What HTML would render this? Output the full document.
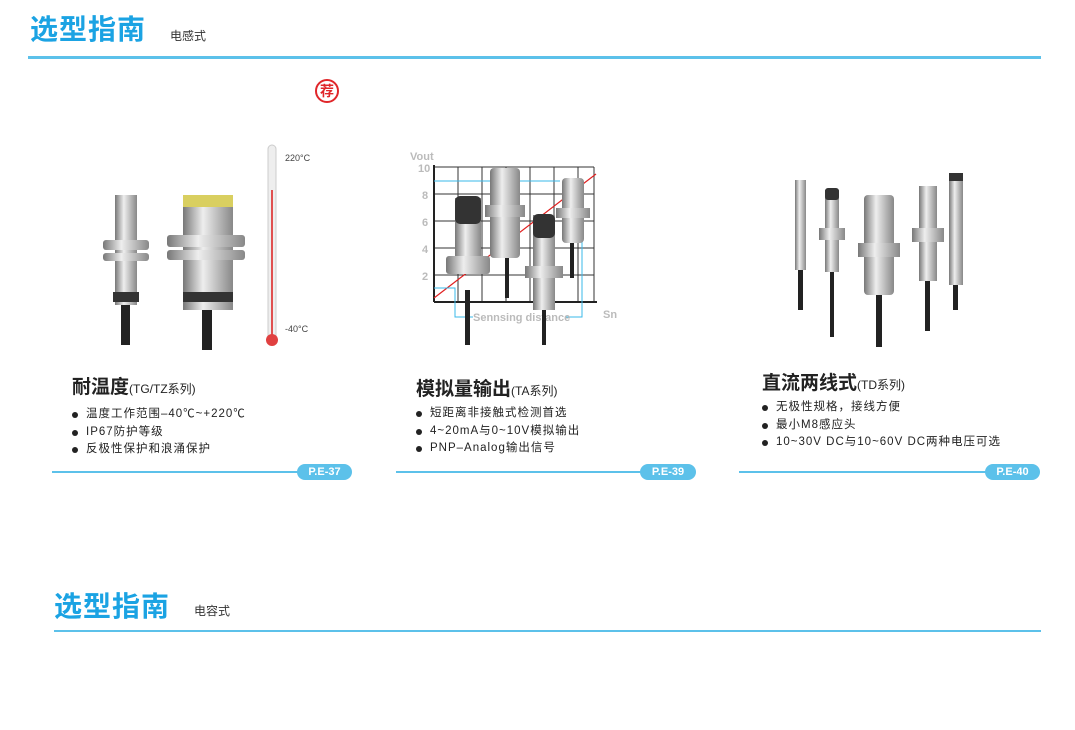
<!DOCTYPE html>
<html><head><meta charset="utf-8"><style>
body{margin:0;width:1075px;height:730px;background:#fff;position:relative;overflow:hidden;font-family:"Liberation Sans","Noto Sans CJK SC",sans-serif;color:#222}
.a{position:absolute;white-space:nowrap}
.h{color:#1ba3e3;font-weight:bold;font-size:28px;letter-spacing:1px}
.s{font-size:12px;color:#333}
.ln{position:absolute;height:2px;background:#5cc1ea}
.t{font-size:19px;font-weight:bold;color:#222}
.t span{font-size:12px;font-weight:normal}
.b{font-size:11.5px;line-height:17.5px;letter-spacing:1px}
.b div{position:relative;padding-left:14px}
.b div:before{content:"";position:absolute;left:0;top:6px;width:6px;height:6px;border-radius:50%;background:#222}
.p{position:absolute;height:16px;border-radius:8px;background:#5cc1ea;color:#fff;font-weight:bold;font-size:11px;text-align:center;line-height:16px}
</style></head><body>
<div class="a h" style="left:30px;top:8px">选型指南</div>
<div class="a s" style="left:170px;top:27px">电感式</div>
<div class="ln" style="left:28px;top:56px;width:1013px;height:3px"></div>
<div class="a" style="left:315px;top:79px;width:20px;height:20px;border:2px solid #e0262a;border-radius:50%;color:#e0262a;font-weight:bold;font-size:14px;text-align:center;line-height:20px">荐</div>

<svg class="a" style="left:0;top:0" width="1075" height="730">
<defs>
<linearGradient id="m" x1="0" x2="1"><stop offset="0" stop-color="#777"/><stop offset=".4" stop-color="#eee"/><stop offset="1" stop-color="#888"/></linearGradient>
</defs>
<rect x="115" y="195" width="22" height="110" fill="url(#m)"/>
<rect x="103" y="240" width="46" height="10" rx="3" fill="url(#m)"/>
<rect x="103" y="253" width="46" height="8" rx="3" fill="url(#m)"/>
<rect x="113" y="292" width="26" height="10" fill="#333"/>
<rect x="121" y="305" width="9" height="40" fill="#222"/>
<rect x="183" y="195" width="50" height="115" fill="url(#m)"/>
<rect x="183" y="195" width="50" height="12" fill="#d9cf60"/>
<rect x="167" y="235" width="78" height="12" rx="3" fill="url(#m)"/>
<rect x="167" y="250" width="78" height="10" rx="3" fill="url(#m)"/>
<rect x="183" y="292" width="50" height="10" fill="#333"/>
<rect x="202" y="310" width="10" height="40" fill="#222"/>
<rect x="268" y="145" width="8" height="195" rx="4" fill="#eee" stroke="#ccc"/>
<rect x="271" y="190" width="2" height="145" fill="#e05050"/>
<circle cx="272" cy="340" r="6" fill="#e04040"/>
<text x="285" y="161" font-size="9" fill="#444">220°C</text>
<text x="285" y="332" font-size="9" fill="#444">-40°C</text>
<g stroke="#333" stroke-width="1">
<line x1="434" y1="167" x2="594" y2="167"/><line x1="434" y1="194" x2="594" y2="194"/><line x1="434" y1="221" x2="594" y2="221"/><line x1="434" y1="248" x2="594" y2="248"/><line x1="434" y1="275" x2="594" y2="275"/>
<line x1="458" y1="167" x2="458" y2="302"/><line x1="482" y1="167" x2="482" y2="302"/><line x1="506" y1="167" x2="506" y2="302"/><line x1="530" y1="167" x2="530" y2="302"/><line x1="554" y1="167" x2="554" y2="302"/><line x1="578" y1="167" x2="578" y2="302"/><line x1="594" y1="167" x2="594" y2="302"/>
</g>
<line x1="434" y1="165" x2="434" y2="302" stroke="#222" stroke-width="2"/>
<line x1="434" y1="302" x2="597" y2="302" stroke="#222" stroke-width="2"/>
<line x1="434" y1="298" x2="596" y2="174" stroke="#e02020" stroke-width="1.2"/>
<polyline points="434,288 455,288 455,317 473,317" fill="none" stroke="#3ab8ea"/>
<polyline points="565,317 582,317 582,221" fill="none" stroke="#3ab8ea"/>
<line x1="434" y1="181" x2="560" y2="181" stroke="#3ab8ea"/>
<g font-size="11" fill="#bbb" font-weight="bold"><text x="410" y="160">Vout</text><text x="418" y="172">10</text><text x="422" y="199">8</text><text x="422" y="226">6</text><text x="422" y="253">4</text><text x="422" y="280">2</text><text x="603" y="318">Sn</text><text x="473" y="321">Sennsing distance</text></g>
<rect x="455" y="198" width="26" height="75" fill="url(#m)"/><rect x="455" y="196" width="26" height="28" rx="5" fill="#333"/>
<rect x="446" y="256" width="44" height="18" rx="3" fill="url(#m)"/><rect x="465" y="290" width="5" height="55" fill="#222"/>
<rect x="490" y="168" width="30" height="90" rx="4" fill="url(#m)"/><rect x="485" y="205" width="40" height="12" fill="url(#m)"/><rect x="505" y="258" width="4" height="40" fill="#222"/>
<rect x="533" y="215" width="22" height="95" fill="url(#m)"/><rect x="533" y="214" width="22" height="24" rx="5" fill="#333"/><rect x="525" y="266" width="38" height="12" fill="url(#m)"/><rect x="542" y="310" width="4" height="35" fill="#222"/>
<rect x="562" y="178" width="22" height="65" rx="4" fill="url(#m)"/><rect x="556" y="208" width="34" height="10" fill="url(#m)"/><rect x="570" y="243" width="4" height="35" fill="#222"/>
<rect x="795" y="180" width="11" height="90" fill="url(#m)"/><rect x="798" y="270" width="5" height="40" fill="#222"/>
<rect x="825" y="190" width="14" height="82" fill="url(#m)"/><rect x="825" y="188" width="14" height="12" rx="3" fill="#333"/><rect x="819" y="228" width="26" height="12" fill="url(#m)"/><rect x="830" y="272" width="4" height="65" fill="#222"/>
<rect x="864" y="195" width="30" height="100" rx="4" fill="url(#m)"/><rect x="858" y="243" width="42" height="14" fill="url(#m)"/><rect x="876" y="295" width="6" height="52" fill="#222"/>
<rect x="919" y="186" width="18" height="95" fill="url(#m)"/><rect x="912" y="228" width="32" height="14" fill="url(#m)"/><rect x="925" y="281" width="5" height="50" fill="#222"/>
<rect x="949" y="175" width="14" height="110" fill="url(#m)"/><rect x="949" y="173" width="14" height="8" fill="#333"/><rect x="953" y="285" width="5" height="25" fill="#222"/>
</svg>

<div class="a t" style="left:72px;top:372px">耐温度<span>(TG/TZ系列)</span></div>
<div class="a b" style="left:72px;top:406px"><div>温度工作范围–40℃~+220℃</div><div>IP67防护等级</div><div>反极性保护和浪涌保护</div></div>
<div class="ln" style="left:52px;top:471px;width:250px"></div><div class="p" style="left:297px;top:464px;width:55px">P.E-37</div>

<div class="a t" style="left:416px;top:374px">模拟量输出<span>(TA系列)</span></div>
<div class="a b" style="left:416px;top:405px"><div>短距离非接触式检测首选</div><div>4~20mA与0~10V模拟输出</div><div>PNP–Analog输出信号</div></div>
<div class="ln" style="left:396px;top:471px;width:248px"></div><div class="p" style="left:640px;top:464px;width:56px">P.E-39</div>

<div class="a t" style="left:762px;top:368px">直流两线式<span>(TD系列)</span></div>
<div class="a b" style="left:762px;top:399px"><div>无极性规格，接线方便</div><div>最小M8感应头</div><div>10~30V DC与10~60V DC两种电压可选</div></div>
<div class="ln" style="left:739px;top:471px;width:250px"></div><div class="p" style="left:985px;top:464px;width:55px">P.E-40</div>

<div class="a h" style="left:54px;top:585px">选型指南</div>
<div class="a s" style="left:194px;top:602px">电容式</div>
<div class="ln" style="left:54px;top:630px;width:987px"></div>
</body></html>
